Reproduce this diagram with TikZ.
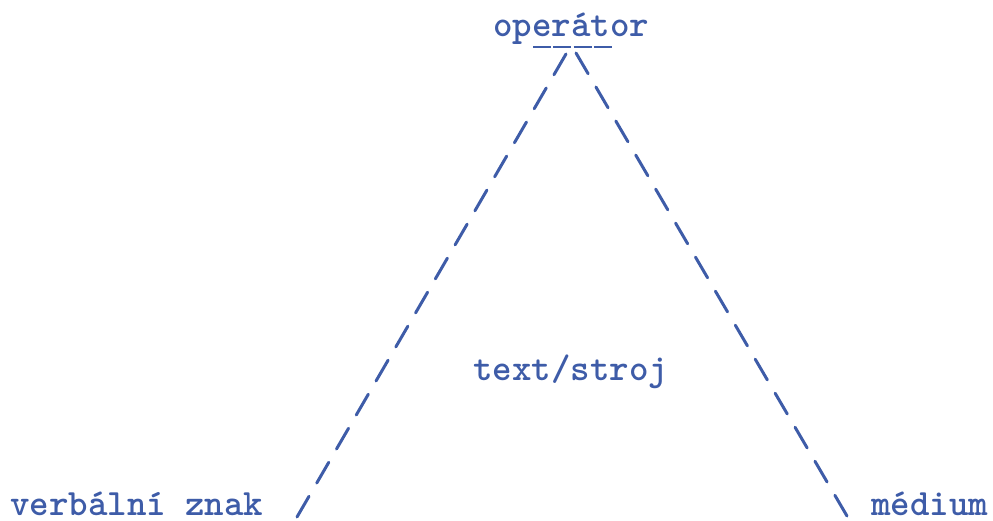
\documentclass[tikz,border=0pt]{standalone}
\usepackage{fontspec}
\definecolor{inkblue}{RGB}{62,92,168}
\begin{document}
\begin{tikzpicture}[x=1pt,y=-1pt,
  lbl/.style={inner sep=0pt,anchor=base west,text=inkblue,
    font=\ttfamily\bfseries\fontsize{37.1}{40}\selectfont},
  slashline/.style={draw=inkblue,line width=3pt,line cap=round}]
\useasboundingbox (0,0) rectangle (993,521);
\node[lbl] (op) at (493,37) {operátor};
\node[lbl] (ts) at (473,380) {text/stroj};
\node[lbl,text depth=0pt] (vz) at (10,515) {verbální znak};
\node[lbl,text depth=0pt] (md) at (871,515) {médium};
\coordinate (ulA) at (533,47);
\coordinate (ulB) at (612,47);
\draw[draw=inkblue,line width=2pt,dash pattern=on 18pt off 2.3pt] (ulA) -- (ulB);
\coordinate (topL) at (566,54);
\coordinate (botL) at (297,517);
\coordinate (topR) at (576,53);
\coordinate (botR) at (847,516);
\draw[slashline,dash pattern=on 24pt off 15.35pt] (topL) -- (botL);
\draw[slashline,dash pattern=on 24pt off 15.42pt] (topR) -- (botR);
\end{tikzpicture}
\end{document}
